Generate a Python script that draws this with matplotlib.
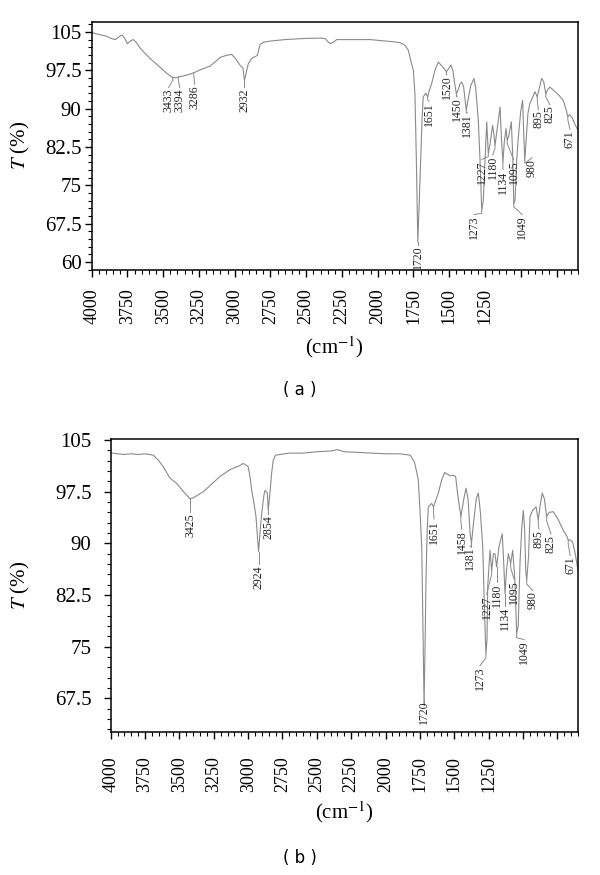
import matplotlib
matplotlib.use("Agg")
import matplotlib.pyplot as plt
from matplotlib.ticker import FixedLocator, MultipleLocator
import numpy as np

plt.rcParams['font.family'] = 'serif'
plt.rcParams['font.serif'] = ['Liberation Serif', 'DejaVu Serif']
plt.rcParams['mathtext.fontset'] = 'stix'

# ---- spectrum (a): wavenumber (cm-1) and transmittance (%)
wn_a = [3990, 3950, 3900, 3860, 3836, 3810, 3790, 3770, 3751, 3730, 3709, 3690,
        3660, 3627, 3580, 3522, 3480, 3441, 3433, 3410, 3394, 3370, 3330, 3286,
        3240, 3173, 3130, 3103, 3060, 3021, 2990, 2963, 2942, 2932, 2920, 2905,
        2881, 2842, 2823, 2800, 2753, 2650, 2522, 2400, 2369, 2345, 2333, 2310,
        2287, 2200, 2054, 1900, 1844, 1810, 1786, 1770, 1751, 1740, 1730, 1720,
        1712, 1700, 1690, 1682, 1665, 1651, 1640, 1623, 1600, 1577, 1560, 1535,
        1520, 1505, 1488, 1475, 1460, 1450, 1440, 1425, 1413, 1400, 1388, 1381,
        1370, 1350, 1327, 1315, 1297, 1285, 1273, 1262, 1250, 1238, 1227, 1215,
        1197, 1188, 1180, 1165, 1145, 1135, 1125, 1115, 1103, 1095, 1085, 1066,
        1055, 1049, 1040, 1028, 1017, 1000, 987, 978, 972, 962, 950, 936, 920,
        901, 885, 870, 854, 840, 825, 810, 796, 760, 730, 703, 680, 671, 660,
        640, 620, 600]
t_a = [104.8, 104.5, 104.2, 103.7, 103.5, 104.0, 104.4, 103.8, 102.7, 103.2, 103.5, 103.0,
       101.8, 100.8, 99.5, 98.1, 97.0, 96.2, 96.1, 96.0, 96.2, 96.3, 96.6, 97.0,
       97.6, 98.3, 99.3, 100.0, 100.4, 100.6, 99.6, 98.5, 97.9, 95.5, 97.0, 98.8,
       99.8, 100.4, 102.5, 103.0, 103.2, 103.5, 103.7, 103.8, 103.7, 103.0, 102.7, 103.0,
       103.5, 103.5, 103.5, 103.1, 102.9, 102.4, 101.4, 99.5, 97.5, 92.9, 80.0, 63.9,
       70.0, 79.9, 88.0, 92.3, 93.0, 92.3, 93.5, 94.9, 97.5, 99.1, 98.6, 97.8,
       97.2, 97.8, 98.5, 97.5, 94.5, 92.9, 93.5, 94.8, 95.2, 94.3, 91.5, 89.7,
       91.5, 94.5, 95.9, 94.0, 87.7, 80.0, 70.1, 72.0, 79.9, 87.4, 81.2, 83.0,
       86.7, 85.0, 82.8, 86.0, 90.3, 84.0, 79.5, 83.5, 86.1, 83.8, 84.5, 87.4,
       80.0, 71.4, 72.0, 80.0, 84.4, 89.5, 91.6, 84.0, 79.9, 84.0, 89.0, 91.0, 92.0,
       93.3, 92.3, 94.0, 95.9, 95.3, 92.9, 93.8, 94.2, 93.3, 92.5, 91.6, 89.5, 88.4, 88.8,
       88.2, 86.8, 85.8]

# peak labels (a): text, peak position, label x position, label top (T)
lab_a = [("3433", 3433, 3462, 94.0), ("3394", 3394, 3385, 94.0),
         ("3286", 3286, 3280, 94.6), ("2932", 2932, 2932, 94.0),
         ("1720", 1720, 1720, 63.2), ("1651", 1651, 1642, 91.3),
         ("1520", 1520, 1518, 96.5), ("1450", 1450, 1444, 92.3),
         ("1381", 1381, 1374, 89.1), ("1273", 1273, 1327, 69.1),
         ("1227", 1227, 1272, 79.9), ("1180", 1180, 1196, 80.8),
         ("1134", 1125, 1124, 77.9), ("1095", 1095, 1051, 79.9),
         ("1049", 1049, 990, 69.1), ("980", 972, 922, 80.2),
         ("895", 885, 877, 89.6), ("825", 825, 796, 90.6),
         ("671", 671, 656, 85.8)]

# ---- spectrum (b)
wn_b = [3990, 3950, 3900, 3850, 3800, 3750, 3690, 3650, 3617, 3570, 3520, 3470,
        3423, 3400, 3326, 3260, 3205, 3132, 3060, 3035, 3010, 2999, 2985, 2974,
        2955, 2943, 2924, 2912, 2901, 2885, 2877, 2865, 2860, 2854, 2845, 2829,
        2817, 2800, 2700, 2600, 2500, 2400, 2350, 2300, 2200, 2100, 2000, 1900,
        1820, 1790, 1775, 1762, 1750, 1737, 1728, 1720, 1712, 1706, 1697, 1689,
        1665, 1651, 1640, 1616, 1592, 1570, 1555, 1530, 1510, 1490, 1475, 1452,
        1430, 1415, 1400, 1385, 1375, 1360, 1340, 1325, 1310, 1293, 1280, 1270,
        1262, 1257, 1240, 1228, 1215, 1204, 1192, 1175, 1151, 1140, 1131, 1120,
        1107, 1090, 1075, 1060, 1046, 1035, 1022, 1010, 998, 988, 980, 973, 960,
        949, 930, 905, 889, 875, 860, 845, 828, 810, 780, 745, 707, 680, 671,
        658, 639, 620, 600]
t_b = [103.1, 103.0, 102.9, 103.0, 102.9, 103.0, 102.8, 102.0, 101.1, 99.5, 98.7, 97.5,
       96.5, 96.6, 97.5, 98.7, 99.7, 100.7, 101.3, 101.6, 101.3, 101.1, 99.5, 97.7,
       95.5, 93.9, 88.8, 92.0, 94.4, 97.0, 97.7, 97.4, 97.3, 94.8, 96.5, 100.2,
       102.1, 102.8, 103.1, 103.1, 103.3, 103.4, 103.6, 103.3, 103.2, 103.1, 103.0, 103.0,
       102.8, 101.8, 100.5, 99.2, 95.0, 89.5, 78.0, 66.5, 76.0, 84.7, 92.0, 95.3,
       95.8, 95.3, 96.0, 97.3, 99.2, 100.3, 100.1, 99.8, 99.9, 99.7, 97.0, 93.9,
       96.5, 98.0, 96.5, 91.5, 90.0, 93.0, 96.5, 97.3, 94.5, 89.5, 80.0, 74.0,
       76.0, 83.7, 89.0, 86.1, 88.5, 88.5, 86.6, 89.5, 91.4, 87.0, 82.7, 86.0,
       88.5, 87.1, 89.0, 85.0, 76.9, 78.0, 87.1, 92.0, 94.8, 92.0, 86.0, 84.7, 88.0,
       93.9, 94.8, 95.3, 93.4, 95.5, 97.3, 96.5, 93.9, 94.5, 94.6, 93.5, 91.9, 91.0, 90.5,
       90.5, 90.2, 88.5, 86.1]

lab_b = [("3425", 3423, 3423, 94.4), ("2924", 2924, 2924, 86.8),
         ("2854", 2854, 2854, 94.1), ("1720", 1720, 1720, 67.2),
         ("1651", 1651, 1648, 93.4), ("1458", 1452, 1446, 91.9),
         ("1381", 1375, 1386, 89.5), ("1273", 1270, 1313, 72.1),
         ("1227", 1228, 1264, 82.5), ("1180", 1192, 1192, 84.2),
         ("1134", 1131, 1131, 80.8), ("1095", 1090, 1066, 84.7),
         ("1049", 1046, 993, 75.9), ("980", 973, 930, 83.0),
         ("895", 889, 884, 91.9), ("825", 828, 797, 91.2),
         ("671", 671, 657, 88.1)]

x_ticks = [4000, 3750, 3500, 3250, 3000, 2750, 2500, 2250, 2000, 1750, 1500, 1250, 1000, 750]
x_ticklabels = ['4000', '3750', '3500', '3250', '3000', '2750', '2500', '2250',
                '2000', '1750', '1500', '1250', '', '']

GRAY = '#8a8a8a'


def draw_panel(ax, wn, t, labels, yticks, ylim, xpad, ypad):
    wn = np.asarray(wn, float)
    t = np.asarray(t, float)
    ax.plot(wn, t, color=GRAY, lw=0.8)
    for text, wp, wl, tl in labels:
        tc = np.interp(wp, wn[::-1], t[::-1])
        ax.plot([wp, wp, wl], [tc, (tc + tl) / 2 if wl == wp else tc - 0.6, tl + 0.15],
                color=GRAY, lw=0.7)
        ax.text(wl, tl, text, rotation=90, ha='center', va='top', fontsize=8.5,
                color='#222222')
    ax.set_xlim(4000, 600)
    ax.set_ylim(*ylim)
    ax.xaxis.set_major_locator(FixedLocator(x_ticks))
    ax.set_xticklabels(x_ticklabels, rotation=90, fontsize=13)
    ax.xaxis.set_minor_locator(MultipleLocator(50))
    ax.yaxis.set_major_locator(FixedLocator(yticks))
    ax.set_yticklabels(['%g' % v for v in yticks], fontsize=15)
    ax.yaxis.set_minor_locator(MultipleLocator(1.5))
    ax.tick_params(which='major', length=4.8, width=1.0, direction='out')
    ax.tick_params(which='minor', length=2.6, width=0.8, direction='out')
    ax.tick_params(axis='x', which='major', pad=xpad)
    ax.tick_params(axis='y', which='major', pad=ypad)
    for s in ax.spines.values():
        s.set_linewidth(1.1)
    ax.set_ylabel(r'$T$ (%)', fontsize=15)
    ax.set_xlabel(r'(cm$^{-1}$)', fontsize=15)


fig = plt.figure(figsize=(6, 8.75), dpi=100)

ax1 = fig.add_axes([0.1528, 0.6914, 0.8105, 0.2838])
draw_panel(ax1, wn_a, t_a, lab_a, [60, 67.5, 75, 82.5, 90, 97.5, 105], (58.4, 107.0),
           xpad=8.5, ypad=2.5)
ax1.yaxis.set_label_coords(-0.123, 0.5)
ax1.xaxis.set_label_coords(0.5, -0.26)

ax2 = fig.add_axes([0.1845, 0.164, 0.7788, 0.3347])
draw_panel(ax2, wn_b, t_b, lab_b, [67.5, 75, 82.5, 90, 97.5, 105], (62.7, 105.2),
           xpad=13, ypad=9)
ax2.yaxis.set_label_coords(-0.168, 0.5)
ax2.xaxis.set_label_coords(0.5, -0.23)

fig.text(0.5, 1 - 390 / 875, '( a )', ha='center', va='center', fontsize=12,
         family='DejaVu Sans')
fig.text(0.5, 1 - 858 / 875, '( b )', ha='center', va='center', fontsize=12,
         family='DejaVu Sans')

fig.savefig('out.png', dpi=100)
